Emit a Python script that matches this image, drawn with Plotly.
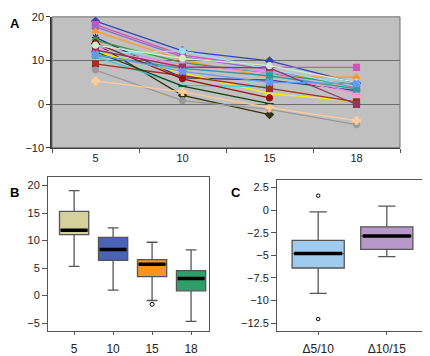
import plotly.graph_objects as go

# ---------------- Panel A data ----------------
a_categories = ["5", "10", "15", "18"]
a_series = {
    "s1":  [19.0, 12.2, 9.9, 4.8],
    "s2":  [18.2, 11.2, 8.4, 8.4],
    "s3":  [17.7, 10.8, 7.9, 3.8],
    "s4":  [16.7, 10.0, 6.2, 6.2],
    "s5":  [15.3, 6.0, 5.5, 3.1],
    "s6":  [14.6, 9.5, 7.0, 4.4],
    "s7":  [13.9, 2.0, -2.4, None],
    "s8":  [13.3, 9.0, 7.5, 2.5],
    "s9":  [12.6, 8.8, 7.0, 2.1],
    "s10": [11.9, 7.2, 2.4, 0.7],
    "s11": [11.6, 12.2, 8.0, 4.0],
    "s12": [11.2, 8.2, 6.5, 3.5],
    "s13": [10.9, 4.3, 4.0, None],
    "s14": [9.2, 6.5, 3.6, 0.5],
    "s15": [7.8, 0.8, -1.2, -4.7],
    "s16": [5.3, 2.8, -0.8, -3.8],
    "s17": [14.0, 5.8, 1.4, None],
    "s18": [12.0, 4.1, 0.1, None],
    "s19": [12.4, 8.5, 8.3, -0.1],
    "s20": [13.5, 10.5, 8.8, 5.0],
    "s21": [11.4, 7.5, 5.0, 4.7],
}
a_colors = ["#3344BB", "#CC55BB", "#9966CC", "#FF9922", "#333377", "#339944",
            "#333311", "#BB99EE", "#FF99CC", "#FFEE00", "#99DDEE", "#339999",
            "#33CCDD", "#993322", "#999999", "#FFCC99", "#991111", "#114411",
            "#993366", "#CCEECC", "#6699FF"]
a_symbols = ["diamond", "square", "x", "triangle-up", "asterisk", "circle",
             "diamond", "x", "triangle-up", "line-ew", "circle", "square",
             "line-ew", "square", "circle", "cross", "circle", "line-ew",
             "square", "circle", "x"]

# ---------------- Panel B data ----------------
b_categories = ["5", "10", "15", "18"]
b_lower = [5.3, 1.0, -0.9, -4.7]
b_q1 = [11.1, 6.4, 3.45, 0.86]
b_median = [11.9, 8.4, 5.7, 3.1]
b_q3 = [15.3, 10.6, 6.55, 4.55]
b_upper = [19.1, 12.3, 9.7, 8.3]
b_outlier_cat = [2]
b_outlier_val = [-1.6]
b_colors = ["#D5D09C", "#4A63B5", "#F7941D", "#2E9E6B"]

# ---------------- Panel C data ----------------
c_categories = ["Δ5/10", "Δ10/15"]
c_lower = [-9.2, -5.15]
c_q1 = [-6.4, -4.35]
c_median = [-4.8, -2.85]
c_q3 = [-3.35, -1.85]
c_upper = [-0.2, 0.45]
c_outlier_cat = [0, 0]
c_outlier_val = [1.6, -12.05]
c_colors = ["#9FCBEE", "#B898C9"]

FONT = "Liberation Sans, Arial, sans-serif"
W, H = 422, 348  # page body adds an 8px offset
fig = go.Figure()

# Panel A lines
for (name, vals), col, sym in zip(a_series.items(), a_colors, a_symbols):
    fig.add_trace(go.Scatter(
        x=a_categories, y=vals, mode="lines+markers", name=name,
        line=dict(color=col, width=1.3),
        marker=dict(color=col, symbol=sym, size=6,
                    line=dict(color=col, width=1.2)),
        xaxis="x", yaxis="y", showlegend=False, connectgaps=False))

# Panel B boxes
bw = 0.75
for i in range(len(b_categories)):
    fig.add_trace(go.Box(
        x=[i], q1=[b_q1[i]], median=[b_median[i]], q3=[b_q3[i]],
        lowerfence=[b_lower[i]], upperfence=[b_upper[i]],
        width=bw, whiskerwidth=0.37, fillcolor=b_colors[i],
        line=dict(color="#555555", width=1.3), boxpoints=False,
        xaxis="x2", yaxis="y2", showlegend=False))
    fig.add_trace(go.Scatter(
        x=[i - bw / 2 + 0.03, i + bw / 2 - 0.03], y=[b_median[i], b_median[i]],
        mode="lines", line=dict(color="black", width=3.5),
        xaxis="x2", yaxis="y2", showlegend=False))
fig.add_trace(go.Scatter(
    x=b_outlier_cat, y=b_outlier_val, mode="markers",
    marker=dict(symbol="circle-open", size=4, color="black", line=dict(width=1)),
    xaxis="x2", yaxis="y2", showlegend=False))

# Panel C boxes
cw = 0.76
for i in range(len(c_categories)):
    fig.add_trace(go.Box(
        x=[i], q1=[c_q1[i]], median=[c_median[i]], q3=[c_q3[i]],
        lowerfence=[c_lower[i]], upperfence=[c_upper[i]],
        width=cw, whiskerwidth=0.33, fillcolor=c_colors[i],
        line=dict(color="#555555", width=1.3), boxpoints=False,
        xaxis="x3", yaxis="y3", showlegend=False))
    fig.add_trace(go.Scatter(
        x=[i - cw / 2 + 0.03, i + cw / 2 - 0.03], y=[c_median[i], c_median[i]],
        mode="lines", line=dict(color="black", width=3.5),
        xaxis="x3", yaxis="y3", showlegend=False))
fig.add_trace(go.Scatter(
    x=c_outlier_cat, y=c_outlier_val, mode="markers",
    marker=dict(symbol="circle-open", size=3.5, color="black", line=dict(width=1)),
    xaxis="x3", yaxis="y3", showlegend=False))

tickfont = dict(family=FONT, size=11, color="#222222")
xtickfont = dict(family=FONT, size=12, color="#222222")


def dx(a, b):
    return [a / W, b / W]


def dy(top, bottom):
    return [1 - bottom / H, 1 - top / H]


fig.update_layout(
    width=W, height=H,
    margin=dict(l=0, r=0, t=0, b=0),
    paper_bgcolor="white",
    plot_bgcolor="white",
    font=dict(family=FONT, size=11),
    xaxis=dict(domain=dx(44, 392), anchor="y", type="category",
               tickson="boundaries", ticks="outside", ticklen=4,
               tickcolor="#555555", showline=True, linecolor="#333333",
               linewidth=1, showgrid=False, tickfont=tickfont,
               range=[-0.5, 3.5], mirror=False),
    yaxis=dict(domain=dy(3, 141), anchor="x", range=[-10, 20],
               dtick=10, ticks="outside", ticklen=4, tickcolor="#333333",
               showline=True, linecolor="#333333", linewidth=1.5,
               showgrid=True, gridcolor="#6E6E6E", gridwidth=1,
               zeroline=False, tickfont=tickfont, ticklabeloverflow="allow"),
    xaxis2=dict(domain=dx(40, 201), anchor="y2",
                tickvals=list(range(len(b_categories))), ticktext=b_categories,
                range=[-0.67, 3.46], ticks="outside", ticklen=3,
                ticklabelstandoff=4, ticklabeloverflow="allow",
                tickcolor="#555555", showline=True, linecolor="#555555",
                mirror=True, showgrid=False, zeroline=False, tickfont=xtickfont),
    yaxis2=dict(domain=dy(172, 334), anchor="x2", range=[-6.4, 21.55],
                tickvals=[20, 15, 10, 5, 0, -5], ticks="outside", ticklen=5,
                tickcolor="#555555", showline=True, linecolor="#555555",
                mirror=True, showgrid=False, zeroline=False, tickfont=tickfont),
    xaxis3=dict(domain=dx(269, 420), anchor="y3",
                tickvals=list(range(len(c_categories))), ticktext=c_categories,
                range=[-0.6, 1.6], ticks="outside", ticklen=3,
                ticklabelstandoff=4, ticklabeloverflow="allow",
                tickcolor="#555555", showline=True, linecolor="#555555",
                mirror=True, showgrid=False, zeroline=False, tickfont=xtickfont),
    yaxis3=dict(domain=dy(175, 334), anchor="x3", range=[-13.34, 3.34],
                tickvals=[2.5, 0, -2.5, -5, -7.5, -10, -12.5],
                ticktext=["2.5", "0", "\u22122.5", "\u22125", "\u22127.5", "\u221210", "\u221212.5"],
                ticks="outside", ticklen=5, tickcolor="#555555",
                showline=True, linecolor="#555555", mirror=True,
                showgrid=False, zeroline=False, tickfont=tickfont),
    annotations=[
        dict(text="<b>A</b>", x=0, y=1, xref="paper", yref="paper",
             showarrow=False, xanchor="left", yanchor="top",
             font=dict(family=FONT, size=13, color="black")),
        dict(text="<b>B</b>", x=0, y=1 - 178 / H, xref="paper", yref="paper",
             showarrow=False, xanchor="left", yanchor="top",
             font=dict(family=FONT, size=13, color="black")),
        dict(text="<b>C</b>", x=221 / W, y=1 - 178 / H, xref="paper", yref="paper",
             showarrow=False, xanchor="left", yanchor="top",
             font=dict(family=FONT, size=13, color="black")),
    ],
)

# Panel A gray plot background (below gridlines) and gray border
fig.add_shape(type="rect", xref="x domain", yref="y domain", x0=0, x1=1, y0=0, y1=1,
              fillcolor="#C0C0C0", line=dict(width=0), layer="below")
fig.add_shape(type="rect", xref="x domain", yref="y domain", x0=0, x1=1, y0=0, y1=1,
              line=dict(color="#6E6E6E", width=1), layer="above")

fig.write_html("out.html")
